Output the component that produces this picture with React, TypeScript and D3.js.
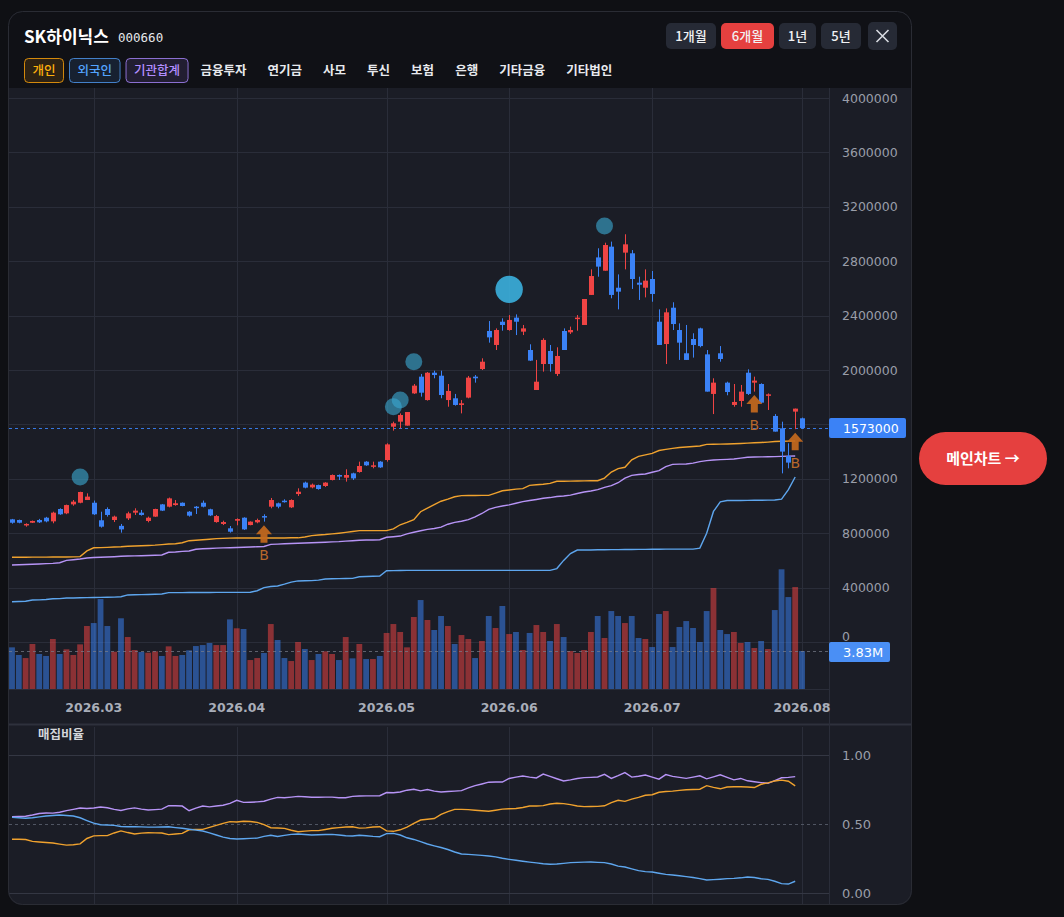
import { useEffect, useRef } from 'react';
import * as d3 from 'd3';

const W = 1064;
const H = 917;

// 일봉 시가/고가/저가/종가 (천원)
const opens = [902,897,858,877,897,914,887,978,946,1012, 1024,1044,1024,895,978,897,854,909,951,951, 890,922,1012,995,1007,1024,958,995,1024,976, 882,868,836,892,914,860,880,926,995,1020, 1039,990,1088,1172,1137,1154,1147,1191,1228,1208, 1240,1250,1326,1289,1326,1338,1583,1620,1591,1828, 1951,1779,1980,1958,1779,1792,1743,1797,1951,2007, 2287,2184,2355,2294,2385,2282,2147,1853,2044,2140, 1971,2287,2277,2375,2331,2552,2828,2730,2907,2605, 2863,2858,2642,2605,2669,2355,2191,2458,2294,2123, 2228,2306,2115,1824,2123,1907,1743,1772,1980,1907, 1897,1816,1662,1571,1368,1694,1645];
const highs = [905,900,873,893,905,920,958,983,1010,1044, 1105,1093,1040,958,990,929,868,958,983,971, 922,980,1015,1062,1044,1026,963,1000,1040,980, 934,892,853,909,917,887,907,939,1059,1025, 1049,1049,1130,1179,1165,1157,1175,1232,1232,1270, 1245,1326,1330,1326,1330,1461,1620,1681,1691,1897, 1971,1985,1995,1995,1897,1824,1779,1956,1963,2086, 2360,2306,2380,2404,2409,2331,2189,2074,2233,2184, 2167,2306,2319,2404,2522,2740,2895,2936,2944,2703, 2998,2882,2686,2740,2728,2446,2453,2498,2343,2331, 2270,2311,2147,1939,2176,1914,1897,1890,2005,1951, 1902,1828,1676,1620,1461,1716,1650];
const lows = [870,873,848,875,875,880,873,935,940,1002, 1020,1044,934,841,922,882,804,897,934,929, 880,920,963,990,1002,998,922,941,990,926, 877,860,804,858,824,858,873,885,983,983, 1025,985,1074,1130,1130,1120,1140,1188,1191,1179, 1191,1245,1295,1277,1280,1326,1554,1571,1591,1824, 1804,1775,1939,1792,1730,1738,1681,1792,1907,2000, 2201,2147,2289,2289,2257,2257,2066,1853,1988,1988, 1956,2147,2265,2289,2331,2552,2686,2730,2527,2446, 2740,2596,2515,2534,2502,2184,2044,2294,2074,2074, 2091,2167,1841,1676,2061,1814,1730,1730,1816,1841, 1755,1706,1547,1240,1277,1565,1566];
const closes = [877,877,868,890,880,887,951,939,1007,1032, 1103,1069,939,848,934,922,828,946,966,934, 914,978,966,1056,1020,1000,929,990,995,931, 926,882,811,904,828,885,897,917,1044,995, 1029,1044,1105,1135,1157,1125,1172,1228,1216,1228, 1203,1294,1299,1299,1284,1453,1608,1669,1691,1885, 1833,1980,1963,1816,1846,1743,1755,1944,1939,2061, 2240,2294,2331,2368,2355,2306,2069,1914,2221,2044, 2103,2147,2294,2385,2522,2691,2760,2919,2552,2576, 2924,2669,2627,2657,2559,2184,2424,2338,2201,2074, 2184,2176,1841,1907,2081,1838,1765,1841,1824,1922, 1760,1821,1547,1400,1319,1716,1573];
// 거래량 (백만주)
const volumes = [4.2,3.43,3.12,4.54,3.53,3.33,5.04,3.53,4.0,3.43, 4.5,6.35,6.65,9.07,6.35,3.76,7.13,5.24,3.93,3.73, 3.66,3.8,3.33,4.3,3.33,3.43,3.9,4.33,4.43,4.64, 4.43,4.43,7.02,6.12,6.05,2.92,3.12,3.63,6.55,4.94, 3.12,2.82,4.74,4.03,2.92,3.53,3.8,3.53,2.92,5.24, 3.09,4.54,3.02,3.02,3.33,5.65,6.55,5.75,4.2,7.26, 8.97,6.96,5.95,7.36,6.35,4.54,5.44,5.04,3.12,4.84, 7.36,6.15,8.37,5.54,5.75,3.93,5.65,6.45,5.75,4.84, 6.55,5.24,3.83,3.63,3.93,5.75,7.36,5.14,7.86,7.36, 6.65,7.36,5.14,5.04,4.23,7.56,7.86,4.23,6.25,6.85, 6.15,4.74,7.86,10.18,5.95,5.54,5.75,4.64,4.74,4.13, 4.84,4.03,7.96,12.07,9.27,10.28,3.83];

// 투자자별 평균단가 (천원)
const indivAvg = [623,623,623,624,624,624,625,625,625,626, 628,670,693,694,696,698,700,704,706,708, 710,712,716,721,722,730,745,748,752,756, 760,762,764,765,765,765,765,765,765,765, 765,766,766,772,782,787,790,795,800,806, 812,819,819,819,819,819,832,862,880,900, 958,985,1010,1035,1050,1068,1076,1077,1077,1078, 1078,1095,1112,1118,1124,1128,1152,1156,1160,1166, 1182,1182,1183,1184,1185,1186,1186,1205,1250,1275, 1285,1340,1365,1376,1387,1408,1416,1424,1430,1434, 1438,1441,1453,1454,1455,1456,1458,1460,1462,1465, 1467,1470,1474,1476,1477,1478];
const instAvg = [566,568,570,572,574,576,578,583,600,605, 610,618,621,623,625,627,630,632,633,634, 636,638,640,660,662,666,669,682,686,688, 690,692,693,695,697,699,700,702,718,720, 722,724,726,728,730,732,734,736,738,742, 745,748,750,750,752,770,774,779,795,807, 818,828,835,845,866,880,888,900,920,945, 975,990,1000,1008,1020,1032,1040,1048,1057,1062, 1070,1074,1080,1092,1103,1110,1120,1137,1150,1171, 1205,1225,1232,1235,1248,1260,1290,1306,1308,1309, 1315,1326,1334,1338,1341,1343,1346,1352,1358,1360, 1361,1362,1363,1365,1367,1368];
const foreignAvg = [296,298,300,309,310,312,318,319,324,324, 325,326,327,328,329,330,333,346,347,348, 349,351,353,363,363,363,364,364,364,364, 365,365,365,365,365,366,377,400,408,412, 425,440,449,450,451,455,463,465,466,467, 468,480,482,484,485,524,525,526,527,527, 527,527,527,527,527,527,527,527,527,527, 527,527,527,527,527,527,527,527,527,527, 540,600,650,676,677,677,678,678,679,679, 680,680,681,681,682,682,683,683,683,683, 683,690,800,960,1030,1040,1040,1040,1041,1042, 1042,1043,1044,1050,1120,1213];

// 매집비율
const indivRatio = [0.389,0.390,0.388,0.374,0.370,0.366,0.362,0.354,0.347,0.350, 0.356,0.395,0.414,0.416,0.416,0.435,0.450,0.438,0.428,0.434, 0.437,0.436,0.435,0.423,0.428,0.432,0.458,0.461,0.461,0.475, 0.490,0.505,0.517,0.514,0.520,0.518,0.512,0.495,0.473,0.471, 0.468,0.455,0.444,0.448,0.452,0.452,0.460,0.469,0.474,0.478, 0.480,0.470,0.472,0.478,0.480,0.450,0.447,0.458,0.478,0.505, 0.529,0.534,0.540,0.570,0.590,0.606,0.606,0.604,0.600,0.596, 0.592,0.600,0.608,0.610,0.612,0.620,0.630,0.630,0.633,0.645, 0.650,0.648,0.640,0.630,0.626,0.627,0.628,0.632,0.655,0.672, 0.664,0.680,0.693,0.708,0.712,0.730,0.736,0.738,0.744,0.748, 0.750,0.752,0.778,0.765,0.755,0.768,0.770,0.770,0.768,0.764, 0.788,0.798,0.812,0.818,0.810,0.776];
const instRatio = [0.553,0.554,0.556,0.565,0.576,0.580,0.579,0.585,0.597,0.606, 0.616,0.612,0.616,0.623,0.618,0.606,0.598,0.610,0.617,0.608, 0.601,0.604,0.608,0.633,0.632,0.630,0.596,0.615,0.630,0.624, 0.630,0.636,0.650,0.672,0.657,0.658,0.660,0.665,0.680,0.693, 0.690,0.695,0.700,0.697,0.694,0.694,0.695,0.695,0.690,0.690, 0.700,0.703,0.704,0.704,0.705,0.728,0.726,0.732,0.745,0.752, 0.740,0.750,0.738,0.732,0.735,0.738,0.742,0.762,0.778,0.790, 0.803,0.804,0.804,0.830,0.840,0.848,0.840,0.834,0.862,0.845, 0.828,0.812,0.820,0.830,0.836,0.838,0.841,0.860,0.830,0.850, 0.872,0.840,0.846,0.855,0.840,0.825,0.858,0.845,0.838,0.831, 0.840,0.849,0.827,0.842,0.857,0.838,0.820,0.830,0.813,0.806, 0.800,0.795,0.815,0.835,0.838,0.843];
const foreignRatio = [0.548,0.545,0.542,0.545,0.552,0.558,0.562,0.565,0.562,0.558, 0.545,0.525,0.506,0.495,0.493,0.490,0.482,0.480,0.480,0.479, 0.477,0.477,0.478,0.480,0.474,0.469,0.462,0.456,0.449,0.436, 0.420,0.405,0.395,0.391,0.393,0.396,0.398,0.410,0.418,0.410, 0.418,0.425,0.428,0.424,0.420,0.422,0.424,0.425,0.420,0.415, 0.413,0.418,0.415,0.410,0.408,0.430,0.432,0.420,0.400,0.388, 0.372,0.355,0.342,0.330,0.315,0.297,0.283,0.280,0.276,0.273, 0.268,0.262,0.252,0.244,0.237,0.230,0.224,0.218,0.212,0.208, 0.210,0.215,0.220,0.222,0.224,0.225,0.222,0.220,0.210,0.195, 0.188,0.175,0.162,0.155,0.152,0.143,0.135,0.130,0.125,0.119, 0.112,0.104,0.094,0.097,0.100,0.104,0.106,0.110,0.116,0.112, 0.103,0.099,0.085,0.068,0.065,0.085];

const monthIdx = [12, 33, 55, 73, 94, 116];
const monthLabels = ['2026.03', '2026.04', '2026.05', '2026.06', '2026.07', '2026.08'];
const priceTicks = [0, 400, 800, 1200, 1600, 2000, 2400, 2800, 3200, 3600, 4000];
const ratioTicks = [0, 0.5, 1];
const lastPrice = 1573;
const lastVolume = 3.83;

// 대량매집 신호
const bubbleIdx = [10, 56, 57, 59, 73, 87];
const bubbleVal = [1213, 1730, 1779, 2061, 2593, 3059];
const bubbleSize = [8.5, 8.5, 8.5, 8.5, 13.7, 8.5];
const buyIdx = [37, 109, 115];

const boxedTabs = ['개인', '외국인', '기관합계'];
const boxedColors = ['#f59e0b', '#4b93e6', '#a07ff0'];
const plainTabs = ['금융투자', '연기금', '사모', '투신', '보험', '은행', '기타금융', '기타법인'];
const periods = ['1개월', '6개월', '1년', '5년'];

const RED = '#ef4444';
const BLUE = '#3b82f6';
const ORANGE = '#f0a22e';
const PURPLE = '#b794f6';
const SKY = '#5ea6ee';

export default function App() {
  const svgRef = useRef<SVGSVGElement>(null);

  useEffect(() => {
    if (!svgRef.current) return;
    const svg = d3.select(svgRef.current);
    svg.selectAll('*').remove();

    const kr = '"Noto Sans CJK KR", "Noto Sans", sans-serif';
    const axisFont = '"DejaVu Sans", sans-serif';

    const x = d3.scaleLinear().domain([0, 116]).range([12, 802]);
    const y = d3.scaleLinear().domain([0, 4000]).range([642, 98]);
    const vy = d3.scaleLinear().domain([0, 12.07]).range([689, 569.3]);
    const ry = d3.scaleLinear().domain([0, 1]).range([893, 755]);

    const defs = svg.append('defs');
    defs.append('clipPath').attr('id', 'panelClip')
      .append('rect').attr('x', 8).attr('y', 11).attr('width', 904).attr('height', 894).attr('rx', 14);
    defs.append('clipPath').attr('id', 'plotClip')
      .append('rect').attr('x', 9).attr('y', 88).attr('width', 820).attr('height', 601);
    defs.append('clipPath').attr('id', 'ratioClip')
      .append('rect').attr('x', 9).attr('y', 727).attr('width', 820).attr('height', 178);

    svg.append('rect').attr('width', W).attr('height', H).attr('fill', '#0f1014');

    const panel = svg.append('g').attr('clip-path', 'url(#panelClip)');
    panel.append('rect').attr('x', 8).attr('y', 11).attr('width', 904).attr('height', 894).attr('fill', '#101116');
    panel.append('rect').attr('x', 8).attr('y', 88).attr('width', 904).attr('height', 817).attr('fill', '#1b1d26');
    panel.append('line').attr('x1', 8).attr('x2', 912).attr('y1', 724.5).attr('y2', 724.5)
      .attr('stroke', '#2e313c').attr('stroke-width', 2);

    const gridColor = '#2a2d39';

    // grid: price
    panel.selectAll('line.pgrid').data(priceTicks).join('line')
      .attr('x1', 9).attr('x2', 829)
      .attr('y1', d => Math.round(y(d)) + 0.5).attr('y2', d => Math.round(y(d)) + 0.5)
      .attr('stroke', gridColor);
    // grid: month verticals
    panel.selectAll('line.mgrid').data(monthIdx).join('line')
      .attr('x1', d => Math.round(x(d)) + 0.5).attr('x2', d => Math.round(x(d)) + 0.5)
      .attr('y1', 88).attr('y2', 689).attr('stroke', gridColor);
    panel.selectAll('line.mgrid2').data(monthIdx).join('line')
      .attr('x1', d => Math.round(x(d)) + 0.5).attr('x2', d => Math.round(x(d)) + 0.5)
      .attr('y1', 727).attr('y2', 905).attr('stroke', gridColor);
    panel.append('line').attr('x1', 9).attr('x2', 829).attr('y1', 689.5).attr('y2', 689.5).attr('stroke', gridColor);
    panel.append('line').attr('x1', 829.5).attr('x2', 829.5).attr('y1', 88).attr('y2', 905).attr('stroke', gridColor);

    const plot = panel.append('g').attr('clip-path', 'url(#plotClip)');
    const isUp = (i: number) => closes[i] >= opens[i];

    // volume
    plot.selectAll('rect.vol').data(volumes).join('rect')
      .attr('x', (_, i) => x(i) - 2.9).attr('width', 5.8)
      .attr('y', d => vy(d)).attr('height', d => 689 - vy(d))
      .attr('fill', (_, i) => (isUp(i) ? RED : BLUE))
      .attr('opacity', 0.53);

    // volume dashed
    plot.append('line').attr('x1', 9).attr('x2', 829)
      .attr('y1', Math.round(vy(lastVolume)) + 0.5).attr('y2', Math.round(vy(lastVolume)) + 0.5)
      .attr('stroke', '#7a7f8c').attr('stroke-dasharray', '3,3').attr('opacity', 0.7);

    // average price lines
    const line = d3.line<number>().x((_, i) => x(i)).y(d => y(d));
    [[indivAvg, ORANGE], [instAvg, PURPLE], [foreignAvg, SKY]].forEach(([data, color]) => {
      plot.append('path').attr('d', line(data as number[]) as string)
        .attr('fill', 'none').attr('stroke', color as string).attr('stroke-width', 1.4);
    });

    // current price line
    plot.append('line').attr('x1', 9).attr('x2', 829)
      .attr('y1', Math.round(y(lastPrice)) + 0.5).attr('y2', Math.round(y(lastPrice)) + 0.5)
      .attr('stroke', BLUE).attr('stroke-dasharray', '3,3').attr('opacity', 0.9);

    // candles
    plot.selectAll('line.wick').data(closes).join('line')
      .attr('x1', (_, i) => Math.round(x(i)) + 0.5).attr('x2', (_, i) => Math.round(x(i)) + 0.5)
      .attr('y1', (_, i) => y(highs[i])).attr('y2', (_, i) => y(lows[i]))
      .attr('stroke', (_, i) => (isUp(i) ? RED : BLUE)).attr('stroke-width', 1);
    plot.selectAll('rect.body').data(closes).join('rect')
      .attr('x', (_, i) => Math.round(x(i)) - 2).attr('width', 5)
      .attr('y', (d, i) => y(Math.max(d, opens[i])))
      .attr('height', (d, i) => Math.max(1.5, Math.abs(y(d) - y(opens[i]))))
      .attr('fill', (_, i) => (isUp(i) ? RED : BLUE));

    // bubbles
    plot.selectAll('circle.bub').data(bubbleIdx).join('circle')
      .attr('cx', d => x(d)).attr('cy', (_, i) => y(bubbleVal[i]))
      .attr('r', (_, i) => bubbleSize[i])
      .attr('fill', (_, i) => (bubbleSize[i] > 10 ? '#3bb0de' : '#3aa6cf'))
      .attr('opacity', (_, i) => (bubbleSize[i] > 10 ? 0.9 : 0.62));

    // buy signals
    buyIdx.forEach(idx => {
      const cx = x(idx);
      const top = y(lows[idx]) + 3.5;
      plot.append('path')
        .attr('d', `M${cx},${top} L${cx + 8},${top + 9} L${cx + 3.5},${top + 9} L${cx + 3.5},${top + 17.5} L${cx - 3.5},${top + 17.5} L${cx - 3.5},${top + 9} L${cx - 8},${top + 9} Z`)
        .attr('fill', '#c4691d').attr('opacity', 0.92);
      plot.append('text').attr('x', cx).attr('y', top + 35)
        .attr('text-anchor', 'middle').attr('font-family', axisFont).attr('font-size', 14)
        .attr('fill', '#b8682c').text('B');
    });

    // price axis labels (the one under the last-price tag is hidden, as in the chart lib)
    const priceTagY = Math.round(y(lastPrice));
    panel.selectAll('text.pt').data(priceTicks.filter(d => Math.abs(y(d) - priceTagY) > 14)).join('text')
      .attr('x', 842).attr('y', d => (d === 0 ? y(d) - 1 : y(d) + 4.5))
      .attr('font-family', axisFont).attr('font-size', 12.5).attr('fill', '#9a9ea9')
      .text(d => String(d * 1000));

    // current price tag
    panel.append('rect').attr('x', 829).attr('y', priceTagY - 10).attr('width', 77).attr('height', 20)
      .attr('rx', 2).attr('fill', BLUE);
    panel.append('text').attr('x', 843).attr('y', priceTagY + 4.5)
      .attr('font-family', axisFont).attr('font-size', 12.5).attr('fill', '#ffffff').text(String(lastPrice * 1000));

    // volume tag
    const volTagY = Math.round(vy(lastVolume));
    panel.append('rect').attr('x', 829).attr('y', volTagY - 9).attr('width', 61).attr('height', 20)
      .attr('rx', 2).attr('fill', '#4a8ff5');
    panel.append('text').attr('x', 843).attr('y', volTagY + 6)
      .attr('font-family', axisFont).attr('font-size', 13).attr('fill', '#ffffff').text(`${lastVolume.toFixed(2)}M`);

    // x axis labels
    panel.selectAll('text.mt').data(monthIdx).join('text')
      .attr('x', d => x(d)).attr('y', 712)
      .attr('text-anchor', 'middle').attr('font-family', axisFont).attr('font-size', 12.5)
      .attr('font-weight', 'bold').attr('fill', '#a9aeb9')
      .text((_, i) => monthLabels[i]);

    // ratio panel
    panel.selectAll('line.rgrid').data(ratioTicks).join('line')
      .attr('x1', 9).attr('x2', 829)
      .attr('y1', d => Math.round(ry(d)) + 0.5).attr('y2', d => Math.round(ry(d)) + 0.5)
      .attr('stroke', d => (d === 0.5 ? '#505562' : '#343743'))
      .attr('stroke-dasharray', d => (d === 0.5 ? '3,3' : null));
    panel.selectAll('text.rt').data(ratioTicks).join('text')
      .attr('x', 842).attr('y', d => ry(d) + 5)
      .attr('font-family', axisFont).attr('font-size', 13).attr('fill', '#9a9ea9')
      .text(d => d.toFixed(2));
    panel.append('text').attr('x', 38).attr('y', 739)
      .attr('font-family', kr).attr('font-size', 12.5).attr('font-weight', 'bold')
      .attr('fill', '#d4d6db').text('매집비율');

    const ratioG = panel.append('g').attr('clip-path', 'url(#ratioClip)');
    const rline = d3.line<number>().x((_, i) => x(i)).y(d => ry(d));
    [[instRatio, PURPLE], [indivRatio, ORANGE], [foreignRatio, SKY]].forEach(([data, color]) => {
      ratioG.append('path').attr('d', rline(data as number[]) as string)
        .attr('fill', 'none').attr('stroke', color as string).attr('stroke-width', 1.4);
    });

    // header
    panel.append('text').attr('x', 24).attr('y', 43)
      .attr('font-family', kr).attr('font-size', 17).attr('font-weight', 'bold')
      .attr('fill', '#ffffff').text('SK하이닉스');
    panel.append('text').attr('x', 118).attr('y', 42)
      .attr('font-family', '"DejaVu Sans Mono", monospace').attr('font-size', 12.5)
      .attr('fill', '#e5e7eb').text('000660');

    let cursor = 24;
    boxedTabs.forEach((label, i) => {
      const box = panel.append('rect').attr('x', cursor + 0.5).attr('y', 58.5).attr('height', 24)
        .attr('rx', 4).attr('fill', boxedColors[i]).attr('fill-opacity', 0.13)
        .attr('stroke', boxedColors[i]).attr('stroke-opacity', 0.85);
      const t = panel.append('text').attr('x', cursor + 8.5).attr('y', 75)
        .attr('font-family', kr).attr('font-size', 12.5).attr('font-weight', 500)
        .attr('fill', d3.color(boxedColors[i])!.brighter(0.3).formatHex()).text(label);
      const tw = (t.node() as SVGTextElement).getComputedTextLength();
      const bw = tw + 16;
      box.attr('width', bw);
      cursor += bw + 6;
    });
    plainTabs.forEach(label => {
      const t = panel.append('text').attr('x', cursor + 7).attr('y', 75)
        .attr('font-family', kr).attr('font-size', 12.5).attr('font-weight', 600)
        .attr('fill', '#e8eaee').text(label);
      const tw = (t.node() as SVGTextElement).getComputedTextLength();
      cursor += tw + 21;
    });

    const periodX = [666, 721, 779, 821];
    const periodW = [50, 53, 37, 40];
    periods.forEach((p, i) => {
      panel.append('rect').attr('x', periodX[i]).attr('y', 23).attr('width', periodW[i]).attr('height', 26)
        .attr('rx', 5).attr('fill', p === '6개월' ? '#e5403f' : '#262a35');
      panel.append('text').attr('x', periodX[i] + periodW[i] / 2).attr('y', 41)
        .attr('text-anchor', 'middle').attr('font-family', kr).attr('font-size', 13)
        .attr('font-weight', 500).attr('fill', '#f1f2f4').text(p);
    });
    panel.append('rect').attr('x', 868).attr('y', 22).attr('width', 29).attr('height', 28)
      .attr('rx', 5).attr('fill', '#262a35');
    panel.append('path').attr('d', 'M876.5,30 L888.5,42 M888.5,30 L876.5,42')
      .attr('stroke', '#d8dbe1').attr('stroke-width', 1.6).attr('fill', 'none');

    svg.append('rect').attr('x', 8.5).attr('y', 11.5).attr('width', 903).attr('height', 893).attr('rx', 14)
      .attr('fill', 'none').attr('stroke', '#2a2c34');

    // main chart button
    svg.append('rect').attr('x', 919).attr('y', 432).attr('width', 128).attr('height', 53).attr('rx', 26.5)
      .attr('fill', '#e5403f');
    svg.append('text').attr('x', 983).attr('y', 464)
      .attr('text-anchor', 'middle').attr('font-family', kr).attr('font-size', 15)
      .attr('font-weight', 'bold').attr('fill', '#ffffff').text('메인차트 →');
  }, []);

  return (
    <div style={{ position: 'fixed', left: 0, top: 0, width: W, height: H, background: '#0f1014' }}>
      <svg ref={svgRef} width={W} height={H} style={{ display: 'block' }} />
    </div>
  );
}
